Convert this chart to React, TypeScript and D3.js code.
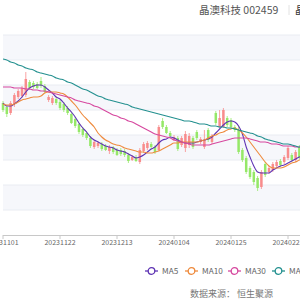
import React from 'react';
import * as d3 from 'd3';

// trading days shown in the chart
const dates = [
  '20231101', '20231102', '20231103', '20231106', '20231107', '20231108', '20231109', '20231110', '20231113', '20231114',
  '20231115', '20231116', '20231117', '20231120', '20231121', '20231122', '20231123', '20231124', '20231127', '20231128',
  '20231129', '20231130', '20231201', '20231204', '20231205', '20231206', '20231207', '20231208', '20231211', '20231212',
  '20231213', '20231214', '20231215', '20231218', '20231219', '20231220', '20231221', '20231222', '20231225', '20231226',
  '20231227', '20231228', '20231229', '20240102', '20240103', '20240104', '20240105', '20240108', '20240109', '20240110',
  '20240111', '20240112', '20240115', '20240116', '20240117', '20240118', '20240119', '20240122', '20240123', '20240124',
  '20240125', '20240126', '20240129', '20240130', '20240131', '20240201', '20240202', '20240205', '20240206', '20240207',
  '20240208', '20240219', '20240220', '20240221', '20240222', '20240223', '20240226', '20240227', '20240228', '20240229',
];

const opens = [
  22.56, 22.24, 21.76, 22.48, 23.04, 23.12, 23.20, 24.24, 24.16, 24.08,
  24.32, 23.92, 22.80, 22.56, 22.88, 22.64, 22.48, 22.16, 21.68, 21.28,
  20.88, 20.48, 20.16, 19.76, 19.04, 19.12, 19.28, 19.12, 18.72, 19.04,
  18.80, 18.80, 18.72, 18.40, 18.00, 18.24, 17.84, 18.72, 18.96, 19.28,
  19.04, 18.80, 21.12, 20.64, 20.16, 19.60, 19.76, 19.20, 18.96, 19.20,
  19.76, 20.24, 19.44, 19.04, 20.40, 19.44, 21.76, 20.64, 20.64, 21.36,
  21.20, 20.64, 20.40, 18.80, 18.16, 17.36, 17.04, 16.56, 15.84, 17.68,
  17.04, 17.20, 17.52, 17.92, 17.84, 18.16, 18.40, 18.00, 19.04, 18.40,
];
const closes = [
  22.00, 21.68, 22.56, 23.20, 23.52, 23.76, 24.48, 23.76, 23.84, 23.76,
  23.92, 23.44, 23.04, 22.96, 22.56, 22.16, 22.00, 21.76, 20.96, 20.72,
  20.24, 20.00, 19.76, 19.12, 19.44, 19.36, 18.88, 18.80, 19.04, 18.64,
  18.40, 18.48, 18.40, 17.92, 18.24, 17.92, 18.80, 19.28, 19.36, 19.04,
  18.64, 20.64, 20.64, 20.16, 19.92, 19.84, 18.88, 19.76, 20.08, 19.92,
  19.04, 19.76, 19.68, 19.60, 19.60, 19.92, 20.96, 21.36, 22.00, 20.80,
  20.64, 20.40, 18.64, 18.00, 17.04, 16.64, 16.24, 15.76, 17.04, 16.80,
  17.36, 17.68, 17.84, 17.60, 18.24, 18.96, 18.00, 18.64, 18.24, 18.80,
];
const highs = [
  22.72, 22.40, 22.72, 23.36, 23.68, 23.92, 25.04, 24.40, 24.32, 24.24,
  24.64, 24.08, 23.20, 23.12, 23.04, 22.80, 22.64, 22.32, 21.84, 21.44,
  20.96, 20.64, 20.32, 19.92, 19.60, 19.52, 19.44, 19.28, 19.20, 19.12,
  18.96, 18.96, 18.88, 18.56, 18.40, 18.40, 18.96, 19.44, 19.52, 19.44,
  19.20, 20.80, 21.36, 20.80, 20.32, 20.00, 19.92, 19.92, 20.32, 20.16,
  19.92, 20.40, 19.84, 20.40, 20.56, 20.08, 21.92, 22.00, 22.16, 21.52,
  21.36, 20.80, 20.72, 18.96, 18.32, 17.52, 17.20, 16.72, 17.20, 17.84,
  17.52, 17.84, 18.00, 18.08, 18.40, 19.12, 18.56, 18.80, 19.20, 18.96,
];
const lows = [
  21.84, 21.44, 21.60, 22.24, 22.88, 22.96, 23.04, 23.60, 23.68, 23.68,
  23.76, 23.36, 22.64, 22.40, 22.40, 22.00, 21.84, 21.60, 20.88, 20.56,
  20.08, 19.84, 19.60, 18.96, 18.88, 18.96, 18.72, 18.72, 18.48, 18.48,
  18.32, 18.32, 18.24, 17.76, 17.92, 17.84, 17.68, 18.56, 18.80, 18.88,
  18.48, 18.72, 20.48, 20.08, 19.76, 19.52, 18.72, 19.04, 18.64, 18.96,
  18.88, 19.60, 19.28, 18.88, 19.44, 19.28, 20.80, 20.56, 20.56, 20.64,
  20.48, 20.24, 18.48, 17.84, 16.88, 16.48, 16.00, 15.52, 15.68, 16.64,
  16.88, 17.04, 17.36, 17.44, 17.68, 18.00, 17.84, 17.84, 18.08, 18.24,
];

const ma5 = [
  22.56, 22.32, 22.32, 22.48, 22.72, 23.04, 23.44, 23.76, 23.92, 24.00,
  24.00, 23.84, 23.60, 23.36, 23.04, 22.88, 22.56, 22.16, 21.84, 21.44,
  20.96, 20.56, 20.24, 19.84, 19.60, 19.44, 19.28, 19.12, 19.04, 18.96,
  18.80, 18.72, 18.64, 18.48, 18.32, 18.16, 18.24, 18.40, 18.64, 18.88,
  19.04, 19.36, 19.60, 19.68, 19.84, 19.76, 19.60, 19.44, 19.36, 19.36,
  19.36, 19.44, 19.52, 19.60, 19.68, 19.84, 20.16, 20.48, 20.80, 21.04,
  21.12, 21.04, 20.72, 20.08, 19.04, 18.24, 17.52, 17.04, 16.96, 16.96,
  16.96, 17.20, 17.36, 17.52, 17.60, 17.76, 17.92, 18.08, 18.24, 18.32,
];
const ma10 = [
  22.48, 22.40, 22.40, 22.48, 22.64, 22.80, 22.88, 22.96, 23.04, 23.04,
  23.12, 23.36, 23.44, 23.44, 23.44, 23.36, 23.28, 23.04, 22.72, 22.40,
  22.00, 21.60, 21.28, 20.96, 20.64, 20.16, 19.84, 19.60, 19.44, 19.28,
  19.20, 19.12, 18.96, 18.88, 18.80, 18.72, 18.64, 18.64, 18.56, 18.56,
  18.64, 18.72, 18.88, 19.04, 19.20, 19.36, 19.36, 19.44, 19.44, 19.44,
  19.44, 19.44, 19.52, 19.60, 19.76, 19.92, 20.00, 20.16, 20.24, 20.40,
  20.48, 20.56, 20.40, 20.16, 19.84, 19.44, 19.04, 18.64, 18.24, 17.84,
  17.52, 17.36, 17.36, 17.36, 17.44, 17.60, 17.76, 17.84, 18.00, 18.08,
];
const ma30 = [
  23.84, 23.84, 23.84, 23.76, 23.76, 23.76, 23.68, 23.68, 23.60, 23.60,
  23.52, 23.52, 23.44, 23.36, 23.28, 23.20, 23.12, 23.04, 22.96, 22.80,
  22.72, 22.64, 22.56, 22.48, 22.32, 22.24, 22.08, 21.92, 21.76, 21.60,
  21.52, 21.36, 21.28, 21.12, 21.04, 20.88, 20.72, 20.56, 20.40, 20.24,
  20.08, 20.00, 19.92, 19.84, 19.76, 19.60, 19.52, 19.44, 19.36, 19.28,
  19.20, 19.20, 19.20, 19.20, 19.20, 19.28, 19.36, 19.44, 19.52, 19.60,
  19.68, 19.76, 19.76, 19.76, 19.76, 19.68, 19.60, 19.52, 19.44, 19.44,
  19.36, 19.28, 19.28, 19.20, 19.12, 19.12, 19.12, 19.04, 19.04, 19.04,
];
const ma60 = [
  26.08, 26.00, 25.84, 25.76, 25.60, 25.52, 25.36, 25.28, 25.20, 25.04,
  24.96, 24.88, 24.80, 24.72, 24.56, 24.48, 24.40, 24.24, 24.16, 24.00,
  23.84, 23.68, 23.60, 23.44, 23.28, 23.12, 23.04, 22.88, 22.80, 22.72,
  22.64, 22.56, 22.48, 22.40, 22.24, 22.16, 22.08, 22.00, 21.92, 21.84,
  21.76, 21.68, 21.60, 21.52, 21.44, 21.36, 21.28, 21.20, 21.12, 21.12,
  21.04, 20.96, 20.88, 20.88, 20.80, 20.72, 20.72, 20.64, 20.64, 20.56,
  20.56, 20.48, 20.40, 20.32, 20.24, 20.16, 20.08, 19.92, 19.84, 19.68,
  19.60, 19.52, 19.44, 19.36, 19.28, 19.28, 19.20, 19.12, 19.04, 19.04,
];

const yTicks = [12, 14, 16, 18, 20, 22, 24, 26, 28];
const tickDates = ['20231101', '20231122', '20231213', '20240104', '20240125', '20240223'];

const series = [
  { name: 'MA5', color: '#5e33b3', values: ma5 },
  { name: 'MA10', color: '#ee8a3c', values: ma10 },
  { name: 'MA30', color: '#d6489f', values: ma30 },
  { name: 'MA60', color: '#23908f', values: ma60 },
];

const UP = '#f88c8c';
const DOWN = '#95e868';
const FONT = "'Noto Sans CJK SC', 'Noto Sans', sans-serif";

export default function App() {
  const width = 300;
  const height = 300;
  const left = 3;
  const step = 3.8;

  const x = d3.scalePoint<string>()
    .domain(dates)
    .range([left, left + step * (dates.length - 1)]);
  const y = d3.scaleLinear().domain([12, 28]).range([235, 35]);

  const bodyW = 2.5;
  const gridRight = 320;

  const line = d3.line<number>()
    .x((_, i) => x(dates[i]) as number)
    .y((d) => y(d))
    .curve(d3.curveMonotoneX);

  // legend placement
  const legendX = [145, 185, 228, 272];

  return (
    <svg width={width} height={height} style={{ position: 'fixed', left: 0, top: 0, background: '#fff' }}>
      {/* title */}
      <text x={199} y={14} fontSize={10.5} fill="#555" fontFamily={FONT}>晶澳科技 002459</text>
      <line x1={289} x2={289} y1={5} y2={15} stroke="#e2e2e2" />
      <text x={295} y={14} fontSize={10.5} fill="#333" fontFamily={FONT}>晶</text>

      {/* split areas */}
      {yTicks.slice(0, -1).map((t, i) => (
        i % 2 === 1 ? (
          <rect key={t} x={left} y={y(yTicks[i + 1])} width={gridRight} height={y(t) - y(yTicks[i + 1])} fill="#f6f7fb" />
        ) : null
      ))}
      {yTicks.slice(1).map((t) => (
        <line key={t} x1={left} x2={gridRight} y1={y(t)} y2={y(t)} stroke="#e9ecf2" strokeWidth={1} />
      ))}

      {/* candles */}
      {dates.map((d, i) => {
        const cx = x(d) as number;
        const up = closes[i] >= opens[i];
        const c = up ? UP : DOWN;
        const top = y(Math.max(opens[i], closes[i]));
        const bot = y(Math.min(opens[i], closes[i]));
        return (
          <g key={d}>
            <line x1={cx} x2={cx} y1={y(highs[i])} y2={y(lows[i])} stroke={c} strokeWidth={0.8} />
            <rect x={cx - bodyW / 2} y={top} width={bodyW} height={Math.max(bot - top, 0.8)} fill={c} />
          </g>
        );
      })}

      {/* moving averages */}
      {series.map((s) => (
        <path key={s.name} d={line(s.values) || ''} fill="none" stroke={s.color} strokeWidth={1.1} />
      ))}

      {/* x axis */}
      <line x1={left} x2={gridRight} y1={235.5} y2={235.5} stroke="#c8c8c8" />
      {tickDates.map((d) => {
        const tx = x(d) as number;
        return (
          <g key={d}>
            <line x1={tx} x2={tx} y1={235} y2={239} stroke="#c8c8c8" />
            <text x={tx} y={245} textAnchor="middle" fontSize={7} fill="#666" fontFamily={FONT}>{d}</text>
          </g>
        );
      })}

      {/* legend */}
      {series.map((s, i) => (
        <g key={s.name} transform={`translate(${legendX[i]},271)`}>
          <line x1={0} x2={13} y1={0} y2={0} stroke={s.color} strokeWidth={1.3} />
          <circle cx={6.5} cy={0} r={3.3} fill="#fff" stroke={s.color} strokeWidth={1.3} />
          <text x={17} y={3} fontSize={8.2} fill="#666" fontFamily={FONT}>{s.name}</text>
        </g>
      ))}

      {/* source */}
      <text x={190} y={297} fontSize={9} fill="#777" fontFamily={FONT}>数据来源： 恒生聚源</text>
    </svg>
  );
}
